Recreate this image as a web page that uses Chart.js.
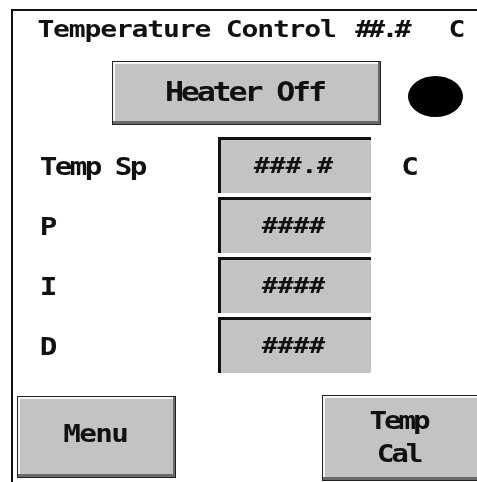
<!DOCTYPE html>
<html>
<head>
<meta charset="utf-8">
<title>Temperature Control</title>
<script src="https://cdn.jsdelivr.net/npm/chart.js@4"></script>
<style>
  html, body { margin: 0; padding: 0; background: #fff; }
  canvas { display: block; }
</style>
</head>
<body>
<canvas id="screen" width="477" height="482"></canvas>
<script>
// Texts on the panel
const titleText = "Temperature Control";
const titleValue = "##.#";
const unitText = "C";
const fieldLabels = ["Temp Sp", "P", "I", "D"];
const fieldValues = ["###.#", "####", "####", "####"];
const heaterLabel = ["Heater Off"];
const menuLabel = ["Menu"];
const calLabel = ["Temp", "Cal"];

// Layout of the screen (pixels)
const W = 477, H = 482;
const FIELD_LEFT = 218, FIELD_RIGHT = 371;
const FIELD_TOP = 135, FIELD_PITCH = 60;
const FACE = "#c3c3c3";
const INK = "#111111";
const FONT = '"DejaVu Sans Mono", "Liberation Mono", monospace';
const STRETCH = 1.22; // the panel font is wider than DejaVu

// Draws text one char at a time with a fixed pitch (like the panel's bitmap font)
function drawMono(ctx, text, x, y, size, pitch, align) {
  ctx.font = `bold ${size}px ${FONT}`;
  ctx.textAlign = "center";
  ctx.textBaseline = "alphabetic";
  ctx.fillStyle = INK;
  const total = pitch * text.length;
  const start = align === "center" ? x - total / 2 : x;
  for (let i = 0; i < text.length; i++) {
    if (text[i] === " ") continue;
    ctx.save();
    ctx.translate(start + pitch * (i + 0.5), y);
    ctx.scale(STRETCH, 1);
    ctx.fillText(text[i], 0, 0);
    ctx.restore();
  }
}

// Raised 3D button
function drawButton(ctx, x, y, w, h) {
  ctx.fillStyle = "#222222"; // outline
  ctx.fillRect(x, y, w, h);
  ctx.fillStyle = "#6a6a6a"; // shadow right / bottom
  ctx.fillRect(x + 1, y + 1, w - 2, h - 2);
  ctx.fillStyle = "#f6f6f6"; // light left / top
  ctx.fillRect(x + 1, y + 1, w - 4, h - 5);
  ctx.fillStyle = FACE;
  ctx.fillRect(x + 3, y + 3, w - 6, h - 7);
}

function drawLines(ctx, lines, cx, firstBase, lineH, size, pitch) {
  lines.forEach((t, i) => drawMono(ctx, t, cx, firstBase + i * lineH, size, pitch, "center"));
}

const panelPlugin = {
  id: "panel",
  beforeDraw(chart) {
    const ctx = chart.ctx;
    ctx.save();
    ctx.fillStyle = "#ffffff";
    ctx.fillRect(0, 0, W, H);
    ctx.restore();
  },
  afterDatasetsDraw(chart) {
    const ctx = chart.ctx;
    ctx.save();

    // Outer frame (top and left edge)
    ctx.fillStyle = INK;
    ctx.fillRect(11, 9, W - 11, 2);
    ctx.fillRect(11, 9, 2, H - 9);

    // Title line
    drawMono(ctx, titleText, 38, 37, 23, 15.7, "left");
    drawMono(ctx, titleValue, 357, 37, 23, 13.2, "left");
    drawMono(ctx, unitText, 457, 37, 23, 15.7, "center");

    // Heater button and lamp
    drawButton(ctx, 112, 61, 269, 64);
    drawLines(ctx, heaterLabel, 246, 101, 0, 26, 15.9);
    ctx.fillStyle = "#000000";
    ctx.beginPath();
    ctx.ellipse(435.5, 96.5, 27.5, 20.5, 0, 0, Math.PI * 2);
    ctx.fill();

    // Field labels and values, placed from the bar scale
    const yScale = chart.scales.y;
    const meta = chart.getDatasetMeta(0);
    fieldLabels.forEach((lab, i) => {
      const cy = yScale.getPixelForValue(i);
      drawMono(ctx, lab, 41, cy + 10, 24, 15, "left");
      const bar = meta.data[i];
      const cx = (bar.x + bar.base) / 2 - 1;
      drawMono(ctx, fieldValues[i], cx, cy + 8, 22, 15.8, "center");
    });
    drawMono(ctx, unitText, 410, yScale.getPixelForValue(0) + 10, 24, 15, "center");

    // Bottom buttons
    drawButton(ctx, 17, 396, 159, 82);
    drawLines(ctx, menuLabel, 96, 442, 0, 24, 16);
    drawButton(ctx, 322, 395, 170, 86);
    drawLines(ctx, calLabel, 400, 429, 33, 24, 14.5);

    ctx.restore();
  },
};

// The four entry fields are floating bars on a pixel-wide x scale
const screenCanvas = document.getElementById("screen");
let panel = new Chart(screenCanvas, {
  type: "bar",
  data: {
    labels: fieldLabels,
    datasets: [
      {
        data: fieldLabels.map(() => [FIELD_LEFT, FIELD_RIGHT]),
        backgroundColor: FACE,
        borderColor: INK,
        borderWidth: { top: 3, left: 3, right: 0, bottom: 0 },
        borderSkipped: false,
        barPercentage: 0.93,
        categoryPercentage: 1,
      },
    ],
  },
  options: {
    indexAxis: "y",
    responsive: false,
    devicePixelRatio: 1,
    animation: false,
    layout: {
      padding: { top: FIELD_TOP, bottom: H - FIELD_TOP - FIELD_PITCH * fieldLabels.length, left: 0, right: 0 },
    },
    scales: {
      x: { type: "linear", min: 0, max: W, display: false },
      y: { display: false },
    },
    plugins: {
      legend: { display: false },
      tooltip: { enabled: false },
    },
  },
  plugins: [panelPlugin],
});
</script>
</body>
</html>
